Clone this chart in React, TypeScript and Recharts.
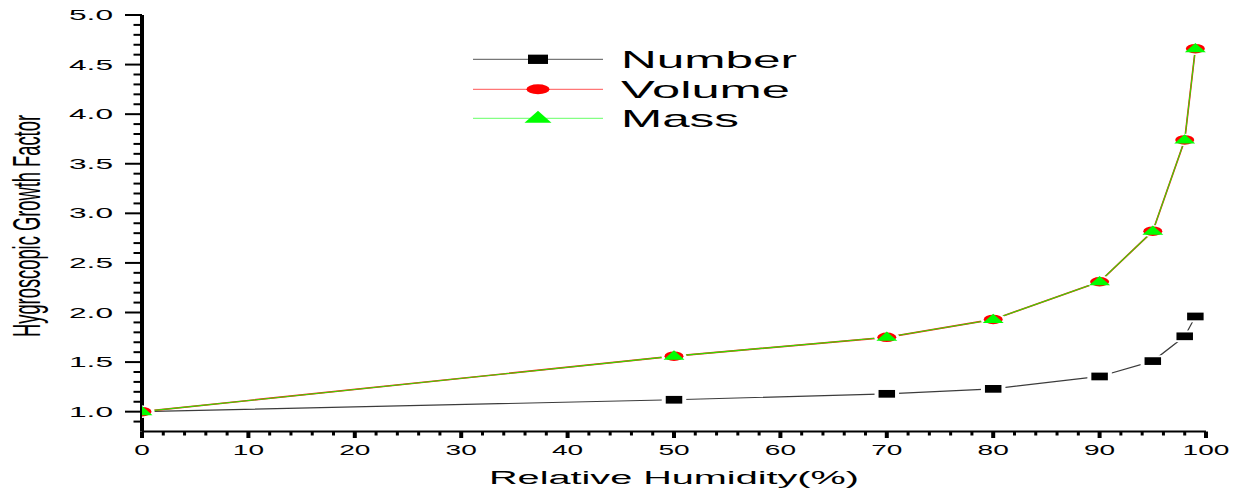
import React from "react";
import { LineChart, Line, XAxis, YAxis, Customized } from "recharts";

// Relative humidity (%) and hygroscopic growth factors
const humidity = [0, 50, 70, 80, 90, 95, 98, 99];
const numberGF = [1.0, 1.12, 1.18, 1.23, 1.355, 1.51, 1.76, 1.96];
const volumeGF = [1.0, 1.56, 1.75, 1.93, 2.31, 2.82, 3.74, 4.66];
const massGF = [1.0, 1.56, 1.75, 1.93, 2.31, 2.82, 3.74, 4.66];

const seriesNames = ["Number", "Volume", "Mass"];
const xTicks = Array.from({ length: 51 }, (_, i) => i * 2);
const yTicks = Array.from({ length: 42 }, (_, i) => (9 + i) / 10);

const data = humidity.map((rh, i) => ({
  rh,
  number: numberGF[i],
  volume: volumeGF[i],
  mass: massGF[i],
}));

const FONT = "'Liberation Sans', Arial, Helvetica, sans-serif";
const W = 1244;
const H = 498;

// marker shapes (wide, as in the plot)
const Square = ({ cx, cy, w, h, halo }: any) => (
  <g>
    {halo && <rect x={cx - w / 2 - 4} y={cy - h / 2 - 2} width={w + 8} height={h + 4} fill="#fff" />}
    <rect x={cx - w / 2} y={cy - h / 2} width={w} height={h} fill="#000" />
  </g>
);
const Ellipse = ({ cx, cy, w, h, halo }: any) => (
  <g>
    {halo && <ellipse cx={cx} cy={cy} rx={w / 2 + 3} ry={h / 2 + 1.5} fill="#fff" />}
    <ellipse cx={cx} cy={cy} rx={w / 2} ry={h / 2} fill="#ff0000" />
  </g>
);
const Triangle = ({ cx, cy, w, h }: any) => (
  <polygon
    points={`${cx},${cy - 0.62 * h} ${cx + w / 2},${cy + 0.38 * h} ${cx - w / 2},${cy + 0.38 * h}`}
    fill="#00ff00"
  />
);

const squareDot = (p: any) => <Square key={`s${p.index}`} cx={p.cx} cy={p.cy} w={16.5} h={7.7} halo />;
const ellipseDot = (p: any) => <Ellipse key={`e${p.index}`} cx={p.cx} cy={p.cy} w={19} h={9.5} halo />;
const triangleDot = (p: any) => <Triangle key={`t${p.index}`} cx={p.cx} cy={p.cy} w={21} h={9.3} />;

const XTick = (props: any) => {
  const { x, y, payload } = props;
  const v = payload.value as number;
  const major = v % 10 === 0;
  const label = String(v);
  return (
    <g>
      <line x1={x} x2={x} y1={y} y2={y + (major ? 6.5 : 4)} stroke="#000" strokeWidth={major ? 4 : 3} />
      {major && (
        <text
          x={x}
          y={y + 23.5}
          textAnchor="middle"
          fontFamily={FONT}
          fontSize={14}
          fill="#000"
          textLength={label.length * 15.6}
          lengthAdjust="spacingAndGlyphs"
        >
          {label}
        </text>
      )}
    </g>
  );
};

const YTick = (props: any) => {
  const { x, y, payload } = props;
  const v = payload.value as number;
  const tenths = Math.round(v * 10);
  const major = tenths >= 10 && tenths % 5 === 0;
  return (
    <g>
      <line x1={x - (major ? 17 : 8.5)} x2={x} y1={y} y2={y} stroke="#000" strokeWidth={2} />
      {major && (
        <text
          x={x - 29}
          y={y + 5}
          textAnchor="end"
          fontFamily={FONT}
          fontSize={14}
          fill="#000"
          textLength={44}
          lengthAdjust="spacingAndGlyphs"
        >
          {v.toFixed(1)}
        </text>
      )}
    </g>
  );
};

const legendLines = ["#555555", "#ff5555", "#66ff66"];
const legendWidths = [176, 169, 118];

const Decorations = () => (
  <g>
    {/* axis titles */}
    <text
      x={674}
      y={484}
      textAnchor="middle"
      fontFamily={FONT}
      fontSize={18}
      fill="#000"
      textLength={370}
      lengthAdjust="spacingAndGlyphs"
    >
      Relative Humidity(%)
    </text>
    <g transform="translate(40,226) scale(2,1) rotate(-90)">
      <text
        x={0}
        y={0}
        textAnchor="middle"
        fontFamily={FONT}
        fontSize={19.5}
        fill="#000"
        textLength={222}
        lengthAdjust="spacingAndGlyphs"
      >
        Hygroscopic Growth Factor
      </text>
    </g>
    {/* legend */}
    {seriesNames.map((name, i) => {
      const cy = [59.3, 89.3, 118.3][i];
      return (
        <g key={name}>
          <line x1={473} x2={603} y1={cy} y2={cy} stroke={legendLines[i]} strokeWidth={1} />
          {i === 0 && <Square cx={538} cy={cy} w={20} h={9.3} />}
          {i === 1 && <Ellipse cx={538} cy={cy} w={23} h={10} />}
          {i === 2 && <Triangle cx={538} cy={cy} w={27} h={12} />}
          <text
            x={621}
            y={cy + 8.6}
            fontFamily={FONT}
            fontSize={24}
            fill="#000"
            textLength={legendWidths[i]}
            lengthAdjust="spacingAndGlyphs"
          >
            {name}
          </text>
        </g>
      );
    })}
  </g>
);

export default function App() {
  return (
    <div style={{ position: "absolute", left: 0, top: 0, width: W, height: H, background: "#fff" }}>
      <LineChart
        width={W}
        height={H}
        data={data}
        margin={{ top: 15, right: 38, bottom: 26.5, left: 82 }}
      >
        <XAxis
          dataKey="rh"
          type="number"
          domain={[0, 100]}
          allowDataOverflow
          ticks={xTicks}
          interval={0}
          height={40}
          tickSize={0}
          tickMargin={0}
          tickLine={false}
          tick={<XTick />}
          axisLine={{ stroke: "#000", strokeWidth: 2 }}
        />
        <YAxis
          type="number"
          domain={[0.8, 5.0]}
          allowDataOverflow
          ticks={yTicks}
          interval={0}
          width={60}
          tickSize={0}
          tickMargin={0}
          tickLine={false}
          tick={<YTick />}
          axisLine={{ stroke: "#000", strokeWidth: 4 }}
        />
        <Line dataKey="number" stroke="#3c3c3c" strokeWidth={1.2} dot={false} isAnimationActive={false} />
        <Line dataKey="volume" stroke="#ff2020" strokeWidth={1.7} dot={false} isAnimationActive={false} />
        <Line dataKey="mass" stroke="#33dd00" strokeWidth={1.1} dot={false} isAnimationActive={false} />
        <Line dataKey="number" stroke="none" dot={squareDot} activeDot={false} isAnimationActive={false} />
        <Line dataKey="volume" stroke="none" dot={ellipseDot} activeDot={false} isAnimationActive={false} />
        <Line dataKey="mass" stroke="none" dot={triangleDot} activeDot={false} isAnimationActive={false} />
        <Customized component={Decorations} />
      </LineChart>
    </div>
  );
}
